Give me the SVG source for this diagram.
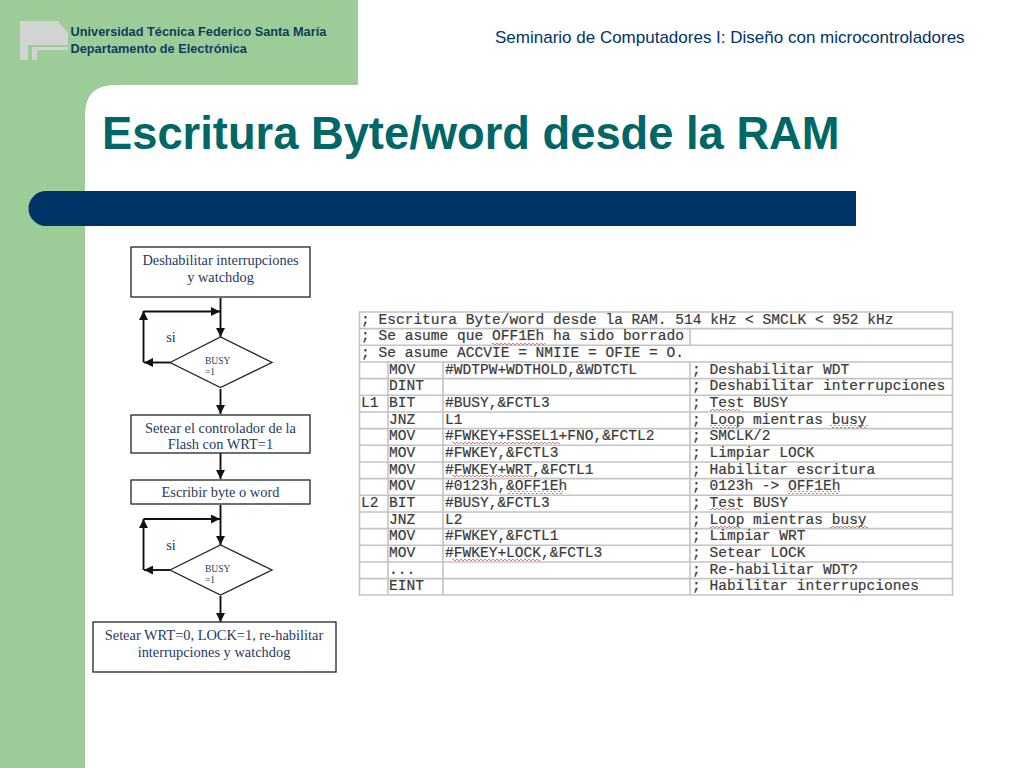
<svg xmlns="http://www.w3.org/2000/svg" width="1024" height="768" viewBox="0 0 1024 768">
<style>
.sans{font-family:"Liberation Sans",Arial,sans-serif}
.fc{font-family:"Liberation Serif","Times New Roman",serif;fill:#1f3a5f;text-anchor:middle;font-size:14.400px}
.sm{font-size:9.500px;text-anchor:start}
.box{fill:#fff;stroke:#222;stroke-width:1.300}
.cn{fill:none;stroke:#111;stroke-width:1.900}
.m{font-family:"Liberation Mono","Courier New",monospace;font-size:14.550px;fill:#3a3a3a;stroke:#3a3a3a;stroke-width:.2;white-space:pre}
.g{stroke:#c4c4c4;stroke-width:1.600;fill:none}
.w{fill:url(#wave)}
</style>
<defs>
<marker id="a" markerWidth="11" markerHeight="9" refX="9" refY="4.500" orient="auto" markerUnits="userSpaceOnUse"><path d="M0 0L9 4.500L0 9z" fill="#111"/></marker>
<pattern id="wave" width="4" height="3" patternUnits="userSpaceOnUse"><path d="M0 2L1 1L2 2L3 3L4 2" fill="none" stroke="#c0504d" stroke-width=".7"/></pattern>
</defs>
<rect width="1024" height="768" fill="#fff"/>
<g id="background">
<path d="M0 0H358V85H115Q85 85 85 115V768H0z" fill="#9ccc97"/>
<path d="M20 21H58L68 33V45H28V60H20zM32 47H68V50H37V60H32z" fill="#d3d3d3"/>
<path d="M28 191H856V226H46A17.500 17.500 0 0 1 46 191z" fill="#003366"/>
</g>
<g id="header">
<text class="sans" x="70.500" y="36" font-size="12.750" font-weight="bold" fill="#0d3d5f">Universidad Técnica Federico Santa María</text>
<text class="sans" x="70.500" y="52.500" font-size="12.750" font-weight="bold" fill="#0d3d5f">Departamento de Electrónica</text>
<text class="sans" x="495" y="43" font-size="17" fill="#003366">Seminario de Computadores I: Diseño con microcontroladores</text>
<text class="sans" x="102" y="149" font-size="45.300" font-weight="bold" fill="#006666">Escritura Byte/word desde la RAM</text>
</g>
<g id="connectors">
<path class="cn" d="M220.500 298V337" marker-end="url(#a)"/>
<path class="cn" d="M143.500 311.500H220" marker-end="url(#a)"/>
<path class="cn" d="M143.500 362.500V311" marker-end="url(#a)"/>
<path class="cn" d="M170 362.500H144" marker-end="url(#a)"/>
<path class="cn" d="M220.500 389V414" marker-end="url(#a)"/>
<path class="cn" d="M220.500 453V479" marker-end="url(#a)"/>
<path class="cn" d="M220.500 505V545" marker-end="url(#a)"/>
<path class="cn" d="M143.500 519H220" marker-end="url(#a)"/>
<path class="cn" d="M143.500 570V519" marker-end="url(#a)"/>
<path class="cn" d="M170 570H144" marker-end="url(#a)"/>
<path class="cn" d="M220.500 596V622" marker-end="url(#a)"/>
</g>
<g id="n1"><rect class="box" x="131" y="247" width="179" height="50"/><text class="fc" x="220.500" y="265">Deshabilitar interrupciones</text><text class="fc" x="220.500" y="281.500">y watchdog</text></g>
<g id="n2"><path class="box" d="M170 362.500L220.500 337L272 362.500L220.500 387.500z"/><text class="fc sm" x="205" y="364">BUSY</text><text class="fc sm" x="205" y="375">=1</text></g>
<text class="fc" x="171" y="342">si</text>
<g id="n3"><rect class="box" x="131" y="415" width="179" height="38"/><text class="fc" x="220.500" y="433">Setear el controlador de la</text><text class="fc" x="220.500" y="449">Flash con WRT=1</text></g>
<g id="n4"><rect class="box" x="131" y="480" width="179" height="24"/><text class="fc" x="220.500" y="497">Escribir byte o word</text></g>
<g id="n5"><path class="box" d="M170 570L220.500 545L272 570L220.500 595z"/><text class="fc sm" x="205" y="572">BUSY</text><text class="fc sm" x="205" y="583">=1</text></g>
<text class="fc" x="171" y="550">si</text>
<g id="n6"><rect class="box" x="93" y="622" width="243" height="50"/><text class="fc" x="214" y="640">Setear WRT=0, LOCK=1, re-habilitar</text><text class="fc" x="214" y="657">interrupciones y watchdog</text></g>
<g id="table">
<path class="g" d="M359.500 312H952.500V595H359.500zM359.500 328.600H952.500M359.500 345.300H952.500M359.500 362H952.500M359.500 378.600H952.500M359.500 395.300H952.500M359.500 412H952.500M359.500 428.600H952.500M359.500 445.300H952.500M359.500 462H952.500M359.500 478.600H952.500M359.500 495.300H952.500M359.500 512H952.500M359.500 528.600H952.500M359.500 545.300H952.500M359.500 562H952.500M359.500 578.600H952.500"/>
<path class="g" d="M388 362V595M443 362V595M690 328.600V345.300M690 362V595"/>
<text class="m"><tspan x="361" y="324">; Escritura Byte/word desde la RAM. 514 kHz &lt; SMCLK &lt; 952 kHz</tspan><tspan x="361" y="340">; Se asume que OFF1Eh ha sido borrado</tspan><tspan x="361" y="357">; Se asume ACCVIE = NMIIE = OFIE = O.</tspan></text>
<text class="m" x="389" y="374">MOV</text><text class="m" x="445" y="374">#WDTPW+WDTHOLD,&amp;WDTCTL</text><text class="m" x="692" y="374">; Deshabilitar WDT</text>
<text class="m" x="389" y="390">DINT</text><text class="m" x="692" y="390">; Deshabilitar interrupciones</text>
<text class="m" x="361" y="407">L1</text><text class="m" x="389" y="407">BIT</text><text class="m" x="445" y="407">#BUSY,&amp;FCTL3</text><text class="m" x="692" y="407">; Test BUSY</text>
<text class="m" x="389" y="424">JNZ</text><text class="m" x="445" y="424">L1</text><text class="m" x="692" y="424">; Loop mientras busy</text>
<text class="m" x="389" y="440">MOV</text><text class="m" x="445" y="440">#FWKEY+FSSEL1+FNO,&amp;FCTL2</text><text class="m" x="692" y="440">; SMCLK/2</text>
<text class="m" x="389" y="457">MOV</text><text class="m" x="445" y="457">#FWKEY,&amp;FCTL3</text><text class="m" x="692" y="457">; Limpiar LOCK</text>
<text class="m" x="389" y="474">MOV</text><text class="m" x="445" y="474">#FWKEY+WRT,&amp;FCTL1</text><text class="m" x="692" y="474">; Habilitar escritura</text>
<text class="m" x="389" y="490">MOV</text><text class="m" x="445" y="490">#0123h,&amp;OFF1Eh</text><text class="m" x="692" y="490">; 0123h -&gt; OFF1Eh</text>
<text class="m" x="361" y="507">L2</text><text class="m" x="389" y="507">BIT</text><text class="m" x="445" y="507">#BUSY,&amp;FCTL3</text><text class="m" x="692" y="507">; Test BUSY</text>
<text class="m" x="389" y="524">JNZ</text><text class="m" x="445" y="524">L2</text><text class="m" x="692" y="524">; Loop mientras busy</text>
<text class="m" x="389" y="540">MOV</text><text class="m" x="445" y="540">#FWKEY,&amp;FCTL1</text><text class="m" x="692" y="540">; Limpiar WRT</text>
<text class="m" x="389" y="557">MOV</text><text class="m" x="445" y="557">#FWKEY+LOCK,&amp;FCTL3</text><text class="m" x="692" y="557">; Setear LOCK</text>
<text class="m" x="389" y="574">...</text><text class="m" x="692" y="574">; Re-habilitar WDT?</text>
<text class="m" x="389" y="590">EINT</text><text class="m" x="692" y="590">; Habilitar interrupciones</text>
<rect class="w" x="492" y="342" width="53" height="3"/>
<rect class="w" x="452" y="441" width="108" height="3"/>
<rect class="w" x="710" y="408" width="30" height="3"/>
<rect class="w" x="710" y="425" width="30" height="3"/>
<rect class="w" x="830" y="425" width="38" height="3"/>
<rect class="w" x="452" y="475" width="80" height="3"/>
<rect class="w" x="508" y="491" width="55" height="3"/>
<rect class="w" x="787" y="491" width="53" height="3"/>
<rect class="w" x="710" y="508" width="30" height="3"/>
<rect class="w" x="710" y="525" width="30" height="3"/>
<rect class="w" x="830" y="525" width="38" height="3"/>
<rect class="w" x="452" y="558" width="88" height="3"/>
</g>
</svg>
